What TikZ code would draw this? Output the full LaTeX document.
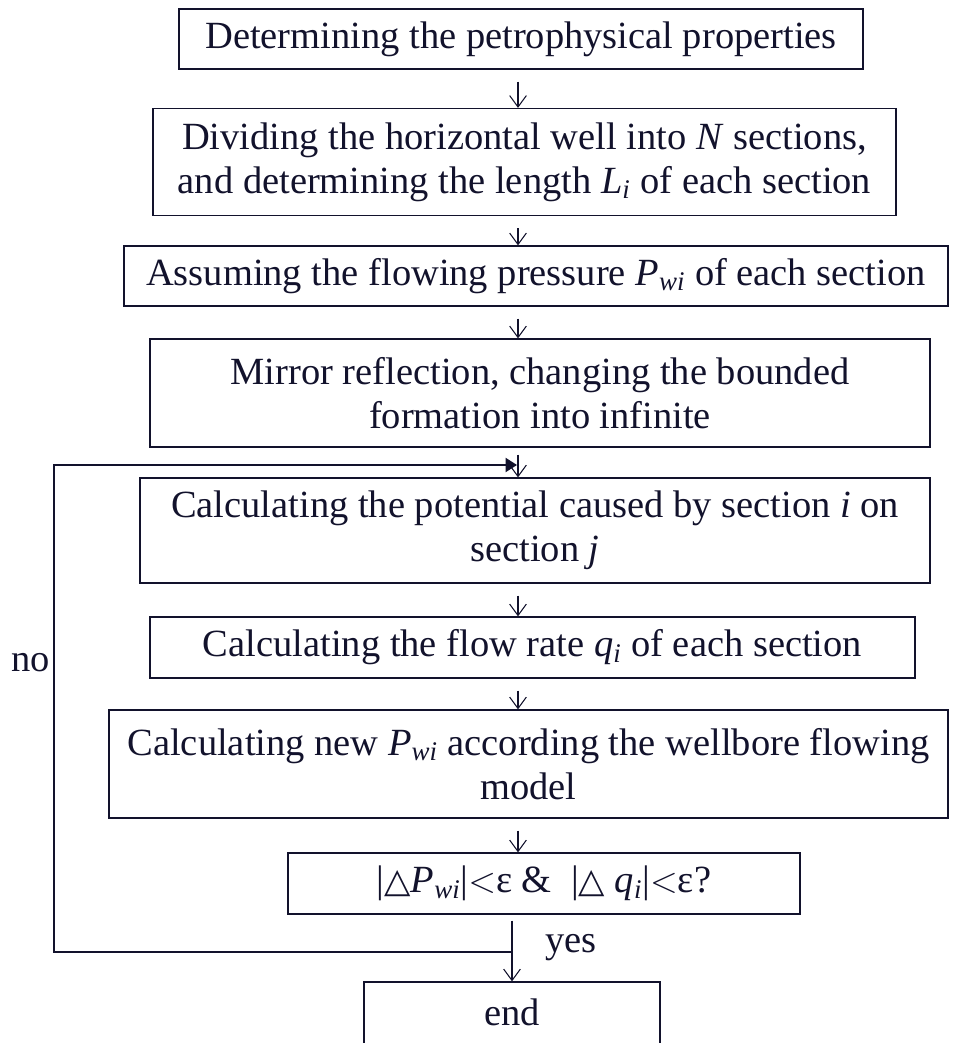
\documentclass[tikz,border=0pt]{standalone}
\usepackage{fontspec}
\setmainfont{Liberation Serif}
\newfontfamily\symfont{DejaVu Sans}
\usetikzlibrary{arrows.meta,calc}
\definecolor{ink}{HTML}{12122C}
\newcommand{\Pwi}{\textit{P}\textsubscript{\textit{wi}}}
\newcommand{\qi}{\textit{q}\textsubscript{\textit{i}}}
\newcommand{\tri}{{\symfont\fontsize{19.5}{19.5}\selectfont △}}

\begin{document}
\begin{tikzpicture}[x=0.02cm, y=-0.02cm,
    box/.style={draw=ink, line width=0.7pt, inner sep=0pt, align=center, text=ink,
                font=\fontsize{21.9}{25}\selectfont},
    arr/.style={-{Straight Barb[length=6.5pt, width=9.5pt]}, line width=0.6pt, ink},
    back/.style={line width=1.1pt, ink},
    lbl/.style={text=ink, font=\fontsize{21.9}{25}\selectfont},
]
\useasboundingbox (0,0) rectangle (953,1043);
\clip (0,0) rectangle (953,1043);

% --- steps ---
\node[box, minimum width=13.68cm, minimum height=1.2cm] (b1) at (521,39)
    {Determining the petrophysical properties};
\node[box, minimum width=14.86cm, minimum height=2.14cm] (b2) at (524.5,162)
    {Dividing the horizontal well into \textit{N} sections,\\
     and determining the length \textit{L}\textsubscript{\textit{i}} of each section};
\node[box, minimum width=16.48cm, minimum height=1.2cm] (b3) at (536,276)
    {Assuming the flowing pressure \Pwi\ of each section};
\node[box, minimum width=15.6cm, minimum height=2.16cm] (b4) at (540,393)
    {Mirror reflection, changing the bounded\\ formation into infinite};
\node[box, minimum width=15.8cm, minimum height=2.1cm] (b5) at (535,530.5)
    {Calculating the potential caused by section \textit{i} on\\ section \textit{j}};
\node[box, minimum width=15.3cm, minimum height=1.22cm] (b6) at (532.5,647.5)
    {Calculating the flow rate \qi\ of each section};
\node[box, minimum width=16.78cm, minimum height=2.16cm] (b7) at (528.5,764)
    {Calculating new \Pwi\ according the wellbore flowing\\ model};
\node[box, minimum width=10.24cm, minimum height=1.22cm] (b8) at (544,883.5)
    {|\tri\Pwi|$<$ε \&\ \ |\tri\ \qi|$<$ε?};
\node[box, minimum width=5.92cm, minimum height=1.56cm] (fin) at (512,1021) {};
\node[lbl] (fint) at (512,1012) {end};

% --- arrows down ---
\coordinate (ax) at (518,0);
\coordinate (ex) at (512,0);
\draw[arr] ($(b1.south -| ax)+(0,12)$) -- (b2.north -| ax);
\draw[arr] ($(b2.south -| ax)+(0,12)$) -- (b3.north -| ax);
\draw[arr] ($(b3.south -| ax)+(0,12)$) -- (b4.north -| ax);
\draw[arr] ($(b4.south -| ax)+(0,7)$) -- (b5.north -| ax);
\draw[arr] ($(b5.south -| ax)+(0,12)$) -- (b6.north -| ax);
\draw[arr] ($(b6.south -| ax)+(0,12)$) -- (b7.north -| ax);
\draw[arr] ($(b7.south -| ax)+(0,12)$) -- (b8.north -| ax);
\draw[arr] ($(b8.south -| ex)+(0,6)$) -- (fin.north -| ex);

% --- loop back ---
\coordinate (yj) at (512,952);
\coordinate (nt) at (54,465);
\coordinate (nr) at (517,465);
\draw[back, -{Triangle[length=6.5pt, width=8pt]}] (yj) -| (nt) -- (nr);
\node[lbl, anchor=east] (no) at (56,663) {no};
\node[lbl] (yes) at (571,948) {yes};
\end{tikzpicture}
\end{document}
